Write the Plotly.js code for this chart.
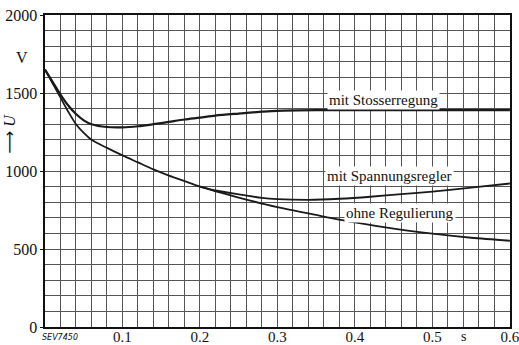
<!DOCTYPE html>
<html>
<head>
<meta charset="utf-8">
<script src="https://cdn.plot.ly/plotly-3.0.1.min.js"></script>
<style>html,body{margin:0;padding:0;background:#fff;}#chart{width:519px;height:345px;}</style>
</head>
<body>
<div id="chart"></div>
<script>
// Time (s) and voltage (V)
var tStoss = [0, 0.01, 0.02, 0.03, 0.04, 0.05, 0.06, 0.08, 0.1, 0.12, 0.14, 0.16, 0.18, 0.2, 0.22, 0.25, 0.28, 0.3, 0.35, 0.4, 0.5, 0.6];
var uStoss = [1650, 1570, 1490, 1420, 1365, 1325, 1300, 1282, 1280, 1287, 1300, 1315, 1330, 1342, 1355, 1368, 1380, 1386, 1390, 1390, 1390, 1390];

var tOhne = [0, 0.01, 0.02, 0.03, 0.04, 0.05, 0.06, 0.08, 0.1, 0.12, 0.14, 0.16, 0.18, 0.2, 0.25, 0.3, 0.35, 0.4, 0.45, 0.5, 0.55, 0.6];
var uOhne = [1650, 1560, 1470, 1380, 1300, 1245, 1200, 1148, 1100, 1055, 1010, 970, 935, 900, 830, 768, 718, 670, 630, 598, 572, 553];

var tSpann = [0.2, 0.22, 0.25, 0.28, 0.3, 0.34, 0.38, 0.42, 0.46, 0.5, 0.55, 0.6];
var uSpann = [900, 875, 850, 828, 820, 815, 822, 835, 852, 868, 893, 920];

var xTickVals = [0.1, 0.2, 0.3, 0.4, 0.5, 0.6];
var xTickText = ["0.1", "0.2", "0.3", "0.4", "0.5", "0.6"];
var yTickVals = [0, 500, 1000, 1500, 2000];
var yTickText = ["0", "500", "1000", "1500", "2000"];

var labels = ["mit Stosserregung", "mit Spannungsregler", "ohne Regulierung"];

var lineCol = "#1a1a1a";
var gridCol = "#555555";
var serif = "Liberation Serif, Times New Roman, serif";

var traces = [
  {x: tStoss, y: uStoss, mode: "lines", line: {color: lineCol, width: 2.2, shape: "spline", smoothing: 0.8}, hoverinfo: "skip"},
  {x: tOhne, y: uOhne, mode: "lines", line: {color: lineCol, width: 1.8, shape: "spline", smoothing: 0.8}, hoverinfo: "skip"},
  {x: tSpann, y: uSpann, mode: "lines", line: {color: lineCol, width: 1.8, shape: "spline", smoothing: 0.8}, hoverinfo: "skip"}
];

function lab(text, x, y) {
  return {text: text, x: x, y: y, xref: "x", yref: "y", showarrow: false,
          font: {family: serif, size: 15, color: "#111"}, bgcolor: "#fff", borderpad: 1};
}
function paperText(text, x, y, size, family) {
  return {text: text, x: x, y: y, xref: "paper", yref: "paper", showarrow: false,
          xanchor: "center", yanchor: "middle",
          font: {family: family || serif, size: size, color: "#111"}};
}

var layout = {
  width: 519, height: 345,
  margin: {l: 45, r: 9, t: 15, b: 18},
  paper_bgcolor: "#fff", plot_bgcolor: "#fff",
  showlegend: false,
  font: {family: serif, size: 16, color: "#111"},
  xaxis: {
    range: [0, 0.6001], tickmode: "array", tickvals: xTickVals, ticktext: xTickText,
    showgrid: true, gridcolor: gridCol, gridwidth: 1,
    minor: {tickmode: "linear", tick0: 0, dtick: 0.02, showgrid: true, gridcolor: gridCol, gridwidth: 1},
    showline: true, linecolor: "#111", linewidth: 1.6, mirror: true,
    ticks: "", ticklabelstandoff: -5, ticklabeloverflow: "allow", zeroline: false, fixedrange: true, automargin: false,
    tickfont: {family: serif, size: 15, color: "#111"}
  },
  yaxis: {
    range: [0, 2000], tickmode: "array", tickvals: yTickVals, ticktext: yTickText,
    showgrid: true, gridcolor: gridCol, gridwidth: 1,
    minor: {tickmode: "linear", tick0: 0, dtick: 100, showgrid: true, gridcolor: gridCol, gridwidth: 1},
    showline: true, linecolor: "#111", linewidth: 1.6, mirror: true,
    ticks: "outside", ticklen: 3, tickcolor: "#111", zeroline: false, fixedrange: true, automargin: false,
    tickfont: {family: serif, size: 16, color: "#111"}
  },
  annotations: [
    lab(labels[0], 0.437, 1455),
    lab(labels[1], 0.445, 968),
    lab(labels[2], 0.458, 731),
    paperText("V", -0.05, 0.865, 16),
    Object.assign(paperText("<span style='font-family:DejaVu Sans'>⟶</span> <i>U</i>", -0.077, 0.62, 16), {textangle: -90}),
    paperText("<i>SEV7450</i>", 0.032, -0.033, 8, "DejaVu Sans"),
    paperText("s", 0.899, -0.032, 14)
  ]
};

Plotly.newPlot("chart", traces, layout, {displayModeBar: false, staticPlot: true});
</script>
</body>
</html>
